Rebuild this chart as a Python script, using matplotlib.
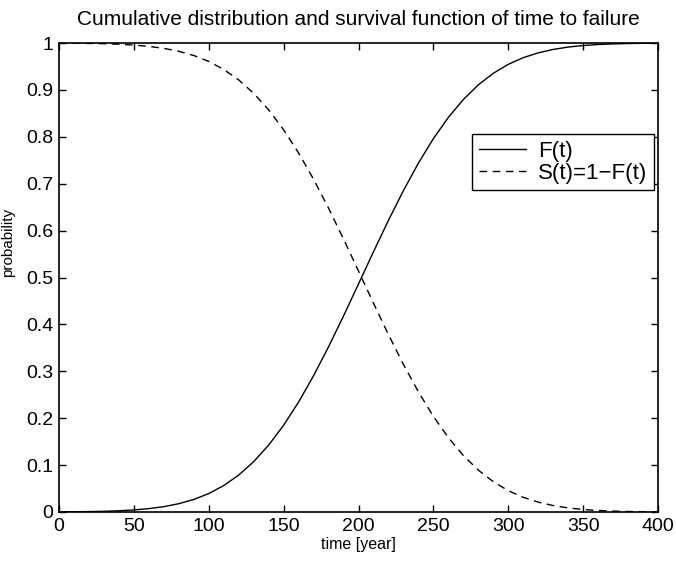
import matplotlib
matplotlib.use("Agg")
import matplotlib.pyplot as plt

plt.rcParams['font.family'] = ['Liberation Sans', 'DejaVu Sans']

t_years = [0, 10, 20, 30, 40, 50, 60, 70, 80, 90, 100, 110, 120, 130, 140, 150,
           160, 170, 180, 190, 200, 210, 220, 230, 240, 250, 260, 270, 280, 290,
           300, 310, 320, 330, 340, 350, 360, 370, 380, 390, 400]
F_values = [0.0003, 0.0005, 0.0009, 0.0015, 0.0026, 0.0044, 0.0072, 0.0114, 0.0177,
            0.0267, 0.0393, 0.0564, 0.0787, 0.1073, 0.1426, 0.1850, 0.2345, 0.2906,
            0.3522, 0.4180, 0.4862, 0.5548, 0.6218, 0.6853, 0.7438, 0.7961, 0.8413,
            0.8795, 0.9107, 0.9354, 0.9545, 0.9687, 0.9790, 0.9863, 0.9913, 0.9946,
            0.9968, 0.9981, 0.9989, 0.9994, 0.9997]
S_values = [0.9997, 0.9995, 0.9991, 0.9985, 0.9974, 0.9956, 0.9928, 0.9886, 0.9823,
            0.9733, 0.9607, 0.9436, 0.9213, 0.8927, 0.8574, 0.8150, 0.7655, 0.7094,
            0.6478, 0.5820, 0.5138, 0.4452, 0.3782, 0.3147, 0.2562, 0.2039, 0.1587,
            0.1205, 0.0893, 0.0646, 0.0455, 0.0313, 0.0210, 0.0137, 0.0087, 0.0054,
            0.0032, 0.0019, 0.0011, 0.0006, 0.0003]
x_ticks = [0, 50, 100, 150, 200, 250, 300, 350, 400]
y_ticks = [0, 0.1, 0.2, 0.3, 0.4, 0.5, 0.6, 0.7, 0.8, 0.9, 1]
y_tick_labels = ['0', '0.1', '0.2', '0.3', '0.4', '0.5', '0.6', '0.7', '0.8', '0.9', '1']

fig = plt.figure(figsize=(6.76, 5.61), dpi=100)
ax = fig.add_axes([59/676, 1 - 512/561, 599/676, 469/561])

ax.plot(t_years, F_values, color='black', linewidth=1.0, label='F(t)')
ax.plot(t_years, S_values, color='black', linewidth=1.0, linestyle=(0, (5.5, 4)),
        label='S(t)=1\u2212F(t)')

ax.set_xlim(0, 400)
ax.set_ylim(0, 1)
ax.set_xticks(x_ticks)
ax.set_xticklabels([str(v) for v in x_ticks])
ax.set_yticks(y_ticks)
ax.set_yticklabels(y_tick_labels)
ax.tick_params(direction='in', top=True, right=True, labelsize=14, length=5,
               width=1, pad=4)
for sp in ax.spines.values():
    sp.set_linewidth(1.2)

ax.set_title('Cumulative distribution and survival function of time to failure',
             fontsize=15, pad=13)
ax.set_xlabel('time [year]', fontsize=11.5, labelpad=2)
ax.set_ylabel('probability', fontsize=11)
ax.yaxis.set_label_coords(-0.073, 0.575)

leg = ax.legend(loc='upper right', bbox_to_anchor=(0.993, 0.806), fontsize=16,
                frameon=True, fancybox=False, framealpha=1, edgecolor='black',
                handlelength=2.1, handletextpad=0.55, borderpad=0.3, labelspacing=0.05,
                borderaxespad=0)
leg.get_frame().set_linewidth(1.0)

fig.savefig('out.png', dpi=100)
